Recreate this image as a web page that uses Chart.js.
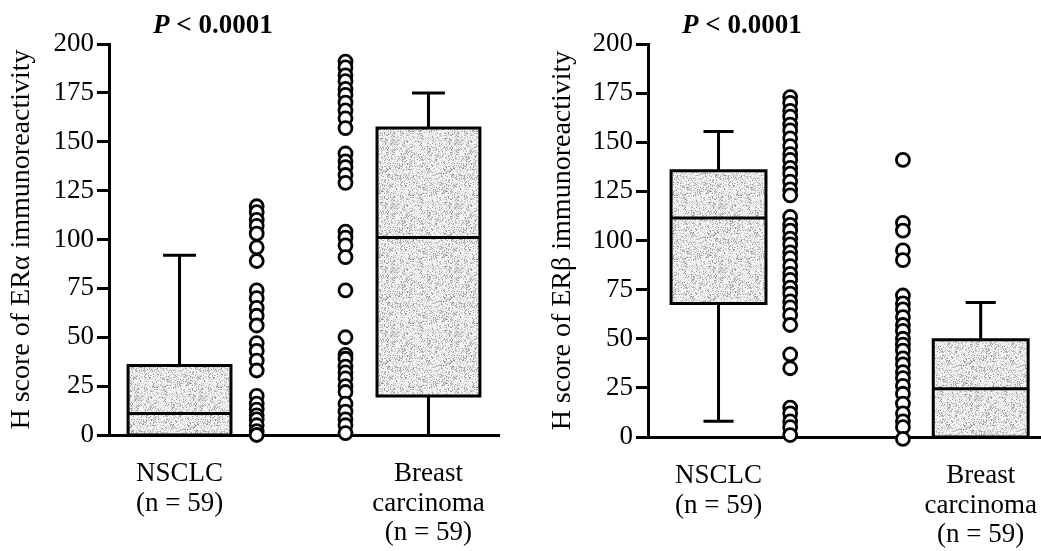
<!DOCTYPE html>
<html>
<head>
<meta charset="utf-8">
<script src="https://cdn.jsdelivr.net/npm/chart.js@4.4.1/dist/chart.umd.min.js"></script>
<style>
    body { margin: 0; background: #fff; }
    #wrap { position: relative; width: 1041px; height: 551px; }
    canvas { position: absolute; top: 0; }
    #chartAlpha { left: 0; }
    #chartBeta { left: 520px; }
</style>
</head>
<body>
<div id="wrap">
    <canvas id="chartAlpha" width="520" height="551"></canvas>
    <canvas id="chartBeta" width="521" height="551"></canvas>
</div>
<script>
const groups = [["NSCLC", "(n = 59)"], ["Breast", "carcinoma", "(n = 59)"]];
const pText = "< 0.0001";
const yTicks = [0, 25, 50, 75, 100, 125, 150, 175, 200];

// ERα H scores, one entry per visible circle
const alphaNsclc = [117, 114, 110, 107, 103, 96, 89, 74, 70, 65, 61, 56, 47, 43, 38, 33, 20, 16, 13, 10, 8, 5, 2, 0];
const alphaBreast = [191, 188, 184, 181, 177, 174, 170, 166, 162, 157, 144, 140, 137, 133, 129, 104, 101, 97, 91, 74, 50, 41, 39, 35, 32, 29, 25, 22, 16, 12, 8, 5, 1];
// box summaries: [low whisker, q1, median, q3, high whisker]
const alphaNsclcBox = [0, 0, 11, 35.5, 92];
const alphaBreastBox = [0, 20, 101, 157, 175];

// ERβ H scores
const betaNsclc = [173, 170, 166, 163, 159, 156, 152, 148, 144, 141, 137, 134, 130, 126, 123, 112, 108, 105, 101, 98, 94, 91, 87, 83, 80, 76, 73, 69, 66, 62, 57, 42, 35, 15, 12, 8, 5, 1];
const betaBreast = [141, 109, 105, 95, 90, 72, 68, 65, 61, 57, 54, 50, 47, 44, 40, 37, 33, 30, 26, 22, 17, 12, 8, 5, -1];
const betaNsclcBox = [8, 68, 111.5, 135.5, 155.5];
const betaBreastBox = [0, 0, 24.5, 49.5, 68.5];

Chart.defaults.font.family = '"Liberation Serif", "Times New Roman", serif';
Chart.defaults.color = "#000";

// grey speckled fill used inside the boxes
function stipple() {
    const c = document.createElement("canvas");
    c.width = c.height = 64;
    const g = c.getContext("2d");
    const img = g.createImageData(64, 64);
    for (let i = 0; i < 64 * 64; i++) {
        let h = Math.imul(i ^ 0x5bd1e995, 2654435761);
        h ^= h >>> 15;
        h = Math.imul(h, 0x27d4eb2d);
        h ^= h >>> 13;
        const t = (h >>> 0) / 4294967296;
        const v = t < 0.15 ? 160 : t < 0.4 ? 210 : 244;
        img.data[i * 4] = img.data[i * 4 + 1] = img.data[i * 4 + 2] = v;
        img.data[i * 4 + 3] = 255;
    }
    g.putImageData(img, 0, 0);
    return g.createPattern(c, "repeat");
}
const boxFill = stipple();

// higher order is painted first, so the fill sits under the outline
function boxDatasets(stats, xc, half, cap) {
    const [lo, q1, med, q3, hi] = stats;
    const gap = {x: xc, y: null};
    const base = {
        type: "line", borderColor: "#000", borderWidth: 3, pointRadius: 0,
        fill: false, clip: false, spanGaps: false, tension: 0,
        borderCapStyle: "square", borderJoinStyle: "miter"
    };
    const lines = [
        {x: xc - half, y: q1}, {x: xc - half, y: q3}, {x: xc + half, y: q3}, {x: xc + half, y: q1}, {x: xc - half, y: q1}, gap,
        {x: xc - half, y: med}, {x: xc + half, y: med}, gap,
        {x: xc, y: q3}, {x: xc, y: hi}, gap,
        {x: xc - cap, y: hi}, {x: xc + cap, y: hi}
    ];
    if (lo < q1) {
        lines.push(gap, {x: xc, y: q1}, {x: xc, y: lo});
        if (lo > 0) lines.push(gap, {x: xc - cap, y: lo}, {x: xc + cap, y: lo});
    }
    return [
        {...base, order: 3, borderWidth: 0, data: [{x: xc - half, y: q3}, {x: xc + half, y: q3}], fill: {value: q1}, backgroundColor: boxFill},
        {...base, order: 2, data: lines}
    ];
}

function dots(values, x) {
    return {
        type: "scatter",
        order: 1,
        data: values.map(v => ({x: x, y: v})),
        pointRadius: 6.5,
        pointHoverRadius: 6.5,
        borderWidth: 2.8,
        borderColor: "#000",
        backgroundColor: "#fff",
        clip: false
    };
}

// "P < 0.0001" heading, P in italics
const pHeading = {
    id: "pHeading",
    afterDraw(chart, args, opts) {
        const ctx = chart.ctx;
        ctx.save();
        ctx.fillStyle = "#000";
        ctx.textBaseline = "middle";
        ctx.font = 'italic bold 27px "Liberation Serif"';
        let x = chart.chartArea.left + opts.offset;
        ctx.fillText("P", x, opts.y);
        x += ctx.measureText("P ").width;
        ctx.font = 'bold 27px "Liberation Serif"';
        ctx.fillText(pText, x, opts.y);
        ctx.restore();
    }
};

function makePanel(id, cfg) {
    const [nsclcX, nsclcDotX, breastDotX, breastX] = cfg.xPos;
    return new Chart(document.getElementById(id), {
        type: "scatter",
        data: {
            datasets: [
                dots(cfg.nsclc, nsclcDotX),
                dots(cfg.breast, breastDotX),
                ...boxDatasets(cfg.nsclcBox, nsclcX, cfg.half, cfg.cap),
                ...boxDatasets(cfg.breastBox, breastX, cfg.half, cfg.cap)
            ]
        },
        plugins: [pHeading],
        options: {
            responsive: false,
            animation: false,
            events: [],
            layout: {autoPadding: false, padding: {top: 44, right: cfg.padRight, left: 0, bottom: 0}},
            scales: {
                x: {
                    type: "linear",
                    min: cfg.xMin,
                    max: cfg.xMax,
                    // labels may run past the edge; keep the plot width fixed
                    afterFit: s => { s.height = cfg.xHeight; s.paddingLeft = 0; s.paddingRight = 0; },
                    afterBuildTicks: s => { s.ticks = [{value: nsclcX}, {value: breastX}]; },
                    grid: {display: false, drawTicks: false},
                    border: {display: true, color: "#000", width: 3},
                    ticks: {
                        autoSkip: false,
                        maxRotation: 0,
                        padding: 24,
                        font: {size: 27, lineHeight: 1.1},
                        callback: (v, i) => groups[i]
                    }
                },
                y: {
                    min: 0,
                    max: 200,
                    afterFit: s => { s.width = cfg.yWidth; },
                    afterBuildTicks: s => { s.ticks = yTicks.map(v => ({value: v})); },
                    grid: {drawOnChartArea: false, drawTicks: true, tickLength: 12, color: "#000", lineWidth: 3},
                    border: {display: true, color: "#000", width: 3},
                    ticks: {padding: 3, font: {size: 27}},
                    title: {
                        display: true,
                        text: cfg.yTitle,
                        font: {size: 28},
                        padding: {top: cfg.titlePad, bottom: 0}
                    }
                }
            },
            plugins: {
                legend: {display: false},
                tooltip: {enabled: false},
                pHeading: {offset: cfg.headOffset, y: 26}
            }
        }
    });
}

makePanel("chartAlpha", {
    nsclc: alphaNsclc, breast: alphaBreast,
    nsclcBox: alphaNsclcBox, breastBox: alphaBreastBox,
    yTitle: "H score of ERα immunoreactivity",
    xPos: [1, 1.93, 3, 4], xMin: 0.15, xMax: 4.85,
    half: 0.62, cap: 0.18,
    yWidth: 109, xHeight: 116, padRight: 21, titlePad: 5, headOffset: 44
});

makePanel("chartBeta", {
    nsclc: betaNsclc, breast: betaBreast,
    nsclcBox: betaNsclcBox, breastBox: betaBreastBox,
    yTitle: "H score of ERβ immunoreactivity",
    xPos: [1, 1.82, 3.11, 4], xMin: 0.193, xMax: 4.69,
    half: 0.543, cap: 0.155,
    yWidth: 128, xHeight: 114, padRight: 0, titlePad: 26, headOffset: 34
});
</script>
</body>
</html>
